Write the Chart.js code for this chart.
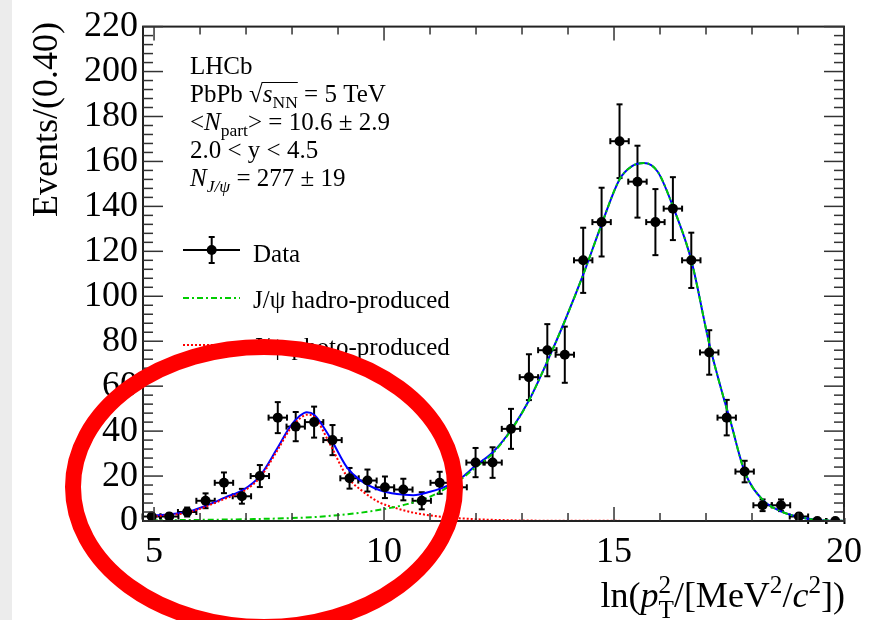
<!DOCTYPE html>
<html>
<head>
<meta charset="utf-8">
<script src="https://cdn.jsdelivr.net/npm/chart.js@4.4.0/dist/chart.umd.min.js"></script>
<style>
  html, body { margin: 0; padding: 0; background: #fff; }
  canvas { display: block; }
</style>
</head>
<body>
<canvas id="fitChart" width="894" height="620"></canvas>
<script>
// bin centres in ln(pT^2) and counts (bins of ~0.40)
const binCentres = [4.95, 5.33, 5.72, 6.12, 6.52, 6.91, 7.30, 7.69, 8.08, 8.48,
                    8.88, 9.25, 9.64, 10.02, 10.42, 10.82, 11.21, 11.60, 11.99, 12.36,
                    12.76, 13.15, 13.55, 13.93, 14.33, 14.73, 15.12, 15.51, 15.90, 16.28,
                    16.68, 17.07, 17.45, 17.84, 18.23, 18.63, 19.02, 19.42, 19.81];
const events = [2, 2, 4, 9, 17, 11, 20, 46, 42, 44,
                36, 19, 18, 15, 14, 9, 17, 15, 26, 26,
                41, 64, 76, 74, 116, 133, 169, 151, 133, 139,
                116, 75, 46, 22, 7, 7, 2, 0, 0];
const eventErrors = [1.4, 1.4, 2, 3.3, 4.6, 3.3, 4.9, 6.9, 6.5, 6.9,
                     6.7, 4.6, 4.9, 4.8, 4.8, 3.8, 4.9, 4.8, 6.5, 6.8,
                     8.9, 10.2, 11.6, 12.5, 14.5, 15.3, 16.4, 16, 14.7, 14,
                     12.3, 9.9, 7.9, 4.8, 2.6, 2.6, 1.4, 0, 0];
const binHalfWidth = 0.2;

// fit curves
const totalX = [4.95, 5.35, 5.75, 6.15, 6.55, 6.95, 7.30, 7.67, 7.96, 8.17, 8.32, 8.48, 8.83, 9.19, 9.48, 9.91,
                10.28, 10.64, 11.0, 11.36, 11.72, 11.98, 12.36, 12.76, 13.15, 13.55, 13.93, 14.33, 14.73,
                15.12, 15.40, 15.65, 15.95, 16.28, 16.68, 17.07, 17.40, 17.51, 17.84, 18.23, 18.63, 19.02,
                19.42, 19.81, 20.0];
const totalY = [2.3, 3.0, 4.1, 7.0, 10.5, 14, 20, 32, 42, 46.8, 48.4, 47.3, 37, 24, 18.2, 13.7,
                12, 11.5, 13, 15.5, 19.8, 24.5, 30.5, 40.5, 53.6, 71, 89, 109.6, 132,
                152, 158, 159.3, 155.4, 140, 116, 79, 53.6, 46, 22, 9.5, 4.3, 1.8,
                0.5, 0.1, 0.05];
const hadroX = [4.95, 6.0, 7.0, 8.0, 8.6, 9.0, 9.5, 10.0, 10.5, 11.0, 11.36, 11.72, 11.98, 12.36, 12.76,
                13.15, 13.55, 13.93, 14.33, 14.73, 15.12, 15.40, 15.65, 15.95, 16.28, 16.68, 17.07,
                17.40, 17.51, 17.84, 18.23, 18.63, 19.02, 19.42, 19.81, 20.0];
const hadroY = [0.3, 0.5, 0.8, 1.3, 1.9, 2.6, 3.7, 5.3, 7.5, 10.8, 14.7, 19.3, 23.7, 30, 40.3,
                53.6, 71, 89, 109.6, 132, 152, 158, 159.3, 155.4, 140, 116, 79,
                53.6, 46, 22, 9.5, 4.3, 1.8, 0.5, 0.1, 0.05];
const photoX = [4.95, 5.35, 5.75, 6.15, 6.55, 6.95, 7.30, 7.67, 7.96, 8.17, 8.32, 8.48, 8.83, 9.19, 9.55,
                9.91, 10.28, 10.64, 11.0, 11.36, 11.72, 12.09, 12.8, 14.0, 20.0];
const photoY = [2.0, 2.7, 3.8, 6.6, 10, 13.3, 19.3, 31, 41, 45.6, 47.3, 46.3, 34, 20, 13,
                8.2, 5.6, 3.7, 2.5, 1.6, 1.1, 0.7, 0.3, 0.1, 0];

const xTickValues = [5, 10, 15, 20];

const SERIF = "'Liberation Serif', 'DejaVu Serif', serif";

function toPoints(xs, ys) {
    return xs.map((x, i) => ({ x: x, y: ys[i] }));
}

// draw (or just measure) a run of text pieces with sub/superscripts
function richText(ctx, x, y, size, runs, draw) {
    let cx = x;
    runs.forEach(r => {
        const small = r.sub || r.sup || r.supsub;
        const s = small ? size * 0.7 : size;
        ctx.font = (r.it ? 'italic ' : '') + s + 'px ' + SERIF;
        if (r.supsub) {
            const w1 = ctx.measureText(r.supsub[0]).width;
            const w2 = ctx.measureText(r.supsub[1]).width;
            if (draw) {
                ctx.fillText(r.supsub[0], cx, y - size * 0.4);
                ctx.fillText(r.supsub[1], cx, y + size * 0.3);
            }
            cx += Math.max(w1, w2);
            return;
        }
        let dy = 0;
        if (r.sub) dy = size * 0.22;
        if (r.sup) dy = -size * 0.4;
        const w = ctx.measureText(r.t).width;
        if (draw) ctx.fillText(r.t, cx, y + dy);
        if (r.bar && draw) r.barStart = cx;
        cx += w;
    });
    return cx - x;
}

function line(ctx, x1, y1, x2, y2) {
    ctx.beginPath();
    ctx.moveTo(x1, y1);
    ctx.lineTo(x2, y2);
    ctx.stroke();
}

const lhcbPlot = {
    id: 'lhcbPlot',
    beforeDraw(chart) {
        const ctx = chart.ctx;
        ctx.save();
        ctx.fillStyle = '#ffffff';
        ctx.fillRect(0, 0, chart.width, chart.height);
        ctx.fillStyle = '#ececec';
        ctx.fillRect(0, 0, 12, chart.height);
        ctx.restore();
    },
    beforeDatasetsDraw(chart) {
        // error bars with small end caps
        const ctx = chart.ctx, xs = chart.scales.x, ys = chart.scales.y;
        ctx.save();
        ctx.strokeStyle = '#000';
        ctx.lineWidth = 2;
        binCentres.forEach((c, i) => {
            const px = xs.getPixelForValue(c), py = ys.getPixelForValue(events[i]);
            const xl = xs.getPixelForValue(c - binHalfWidth), xr = xs.getPixelForValue(c + binHalfWidth);
            line(ctx, xl, py, xr, py);
            line(ctx, xl, py - 3, xl, py + 3);
            line(ctx, xr, py - 3, xr, py + 3);
            if (eventErrors[i] > 0) {
                const yt = ys.getPixelForValue(events[i] + eventErrors[i]);
                const yb = ys.getPixelForValue(Math.max(0, events[i] - eventErrors[i]));
                line(ctx, px, yt, px, yb);
                line(ctx, px - 3, yt, px + 3, yt);
                line(ctx, px - 3, yb, px + 3, yb);
            }
        });
        ctx.restore();
    },
    afterDraw(chart) {
        const ctx = chart.ctx, a = chart.chartArea;
        const xs = chart.scales.x, ys = chart.scales.y;
        ctx.save();

        // frame and inward ticks on all four sides
        ctx.strokeStyle = '#222';
        ctx.lineWidth = 2;
        ctx.strokeRect(a.left, a.top, a.right - a.left, a.bottom - a.top);
        ctx.strokeStyle = '#333';
        ctx.lineWidth = 1.5;
        for (let v = 0; v <= 220; v += 4) {
            const p = ys.getPixelForValue(v);
            const len = v % 20 === 0 ? 20 : 10;
            line(ctx, a.left, p, a.left + len, p);
            line(ctx, a.right, p, a.right - len, p);
        }
        for (let v = 5; v <= 20; v += 1) {
            const p = xs.getPixelForValue(v);
            const len = v % 5 === 0 ? 14 : 8;
            line(ctx, p, a.bottom, p, a.bottom - len);
            line(ctx, p, a.top, p, a.top + len);
        }

        // axis titles
        ctx.fillStyle = '#000';
        ctx.textBaseline = 'alphabetic';
        ctx.save();
        ctx.translate(57, 22);
        ctx.rotate(-Math.PI / 2);
        ctx.textAlign = 'right';
        ctx.font = '36px ' + SERIF;
        ctx.fillText('Events/(0.40)', 0, 0);
        ctx.restore();

        ctx.textAlign = 'left';
        const xTitle = [
            { t: 'ln(' }, { t: 'p', it: true }, { supsub: ['2', 'T'] },
            { t: '/[MeV' }, { t: '2', sup: true }, { t: '/' }, { t: 'c', it: true },
            { t: '2', sup: true }, { t: '])' }
        ];
        const tw = richText(ctx, 0, 0, 36, xTitle, false);
        richText(ctx, 845 - tw, 607, 36, xTitle, true);

        // LHCb info block
        const tx = 190, fs = 25;
        richText(ctx, tx, 74, fs, [{ t: 'LHCb' }], true);
        const w0 = richText(ctx, tx, 102, fs, [{ t: 'PbPb ' }], true);
        ctx.font = fs + 'px ' + SERIF;
        const rw = ctx.measureText('\u221A').width;
        ctx.fillText('\u221A', tx + w0, 102);
        const w1 = richText(ctx, tx + w0 + rw, 102, fs, [{ t: 's', it: true }, { t: 'NN', sub: true }], true);
        ctx.lineWidth = 1;
        ctx.strokeStyle = '#000';
        line(ctx, tx + w0 + rw - 1, 102 - fs * 0.78, tx + w0 + rw + w1, 102 - fs * 0.78);
        richText(ctx, tx + w0 + rw + w1, 102, fs, [{ t: ' = 5 TeV' }], true);
        richText(ctx, tx, 130, fs, [{ t: '<' }, { t: 'N', it: true }, { t: 'part', sub: true },
                                    { t: '> = 10.6 \u00B1 2.9' }], true);
        richText(ctx, tx, 158, fs, [{ t: '2.0 < y < 4.5' }], true);
        richText(ctx, tx, 186, fs, [{ t: 'N', it: true }, { t: 'J/\u03C8', sub: true, it: true },
                                    { t: ' = 277 \u00B1 19' }], true);

        // legend
        ctx.lineWidth = 2;
        ctx.strokeStyle = '#000';
        line(ctx, 183, 250, 240, 250);
        line(ctx, 211.7, 237, 211.7, 263);
        line(ctx, 208.7, 237, 214.7, 237);
        line(ctx, 208.7, 263, 214.7, 263);
        ctx.beginPath();
        ctx.arc(211.7, 250, 5, 0, Math.PI * 2);
        ctx.fillStyle = '#000';
        ctx.fill();
        ctx.strokeStyle = '#00cc00';
        ctx.setLineDash([6, 3, 2, 3]);
        line(ctx, 183, 298, 240, 298);
        ctx.strokeStyle = '#ff0000';
        ctx.setLineDash([2, 2]);
        line(ctx, 183, 345, 240, 345);
        ctx.setLineDash([]);
        ctx.fillStyle = '#000';
        richText(ctx, 253, 262, fs, [{ t: 'Data' }], true);
        richText(ctx, 253, 308, fs, [{ t: 'J/\u03C8 hadro-produced' }], true);
        richText(ctx, 253, 355, fs, [{ t: 'J/\u03C8 photo-produced' }], true);

        // red highlight ellipse
        ctx.strokeStyle = '#ff0000';
        ctx.lineWidth = 16;
        ctx.beginPath();
        ctx.ellipse(264, 487, 191, 140, 0, 0, Math.PI * 2);
        ctx.stroke();
        ctx.restore();
    }
};

const tickFont = { family: SERIF, size: 36 };

new Chart(document.getElementById('fitChart'), {
    type: 'line',
    data: {
        datasets: [
            {
                label: 'Data',
                data: toPoints(binCentres, events),
                showLine: false,
                pointRadius: 5,
                pointBackgroundColor: '#000',
                pointBorderColor: '#000',
                pointBorderWidth: 0,
                order: 0
            },
            {
                label: 'J/\u03C8 hadro-produced',
                data: toPoints(hadroX, hadroY),
                borderColor: '#00cc00',
                borderWidth: 2,
                borderDash: [6, 3, 2, 3],
                pointRadius: 0,
                fill: false,
                cubicInterpolationMode: 'monotone',
                order: 1
            },
            {
                label: 'J/\u03C8 photo-produced',
                data: toPoints(photoX, photoY),
                borderColor: '#ff0000',
                borderWidth: 2,
                borderDash: [2, 2],
                pointRadius: 0,
                fill: false,
                cubicInterpolationMode: 'monotone',
                order: 2
            },
            {
                label: 'Total fit',
                data: toPoints(totalX, totalY),
                borderColor: '#0000ff',
                borderWidth: 2,
                pointRadius: 0,
                fill: false,
                cubicInterpolationMode: 'monotone',
                order: 3
            }
        ]
    },
    options: {
        responsive: false,
        animation: false,
        devicePixelRatio: 1,
        layout: { padding: { left: 0, top: 24, right: 50, bottom: 0 } },
        plugins: {
            legend: { display: false },
            tooltip: { enabled: false }
        },
        scales: {
            x: {
                type: 'linear',
                min: 4.76,
                max: 20,
                grid: { display: false, drawTicks: false },
                border: { display: false },
                ticks: { font: tickFont, color: '#000', padding: 10, maxRotation: 0, autoSkip: false },
                afterBuildTicks: s => { s.ticks = xTickValues.map(v => ({ value: v })); },
                afterFit: s => { s.height = 99; }
            },
            y: {
                min: 0,
                max: 220,
                grid: { display: false, drawTicks: false },
                border: { display: false },
                ticks: { stepSize: 20, font: tickFont, color: '#000', padding: 5, autoSkip: false },
                afterFit: s => { s.width = 143; }
            }
        }
    },
    plugins: [lhcbPlot]
});
</script>
</body>
</html>
